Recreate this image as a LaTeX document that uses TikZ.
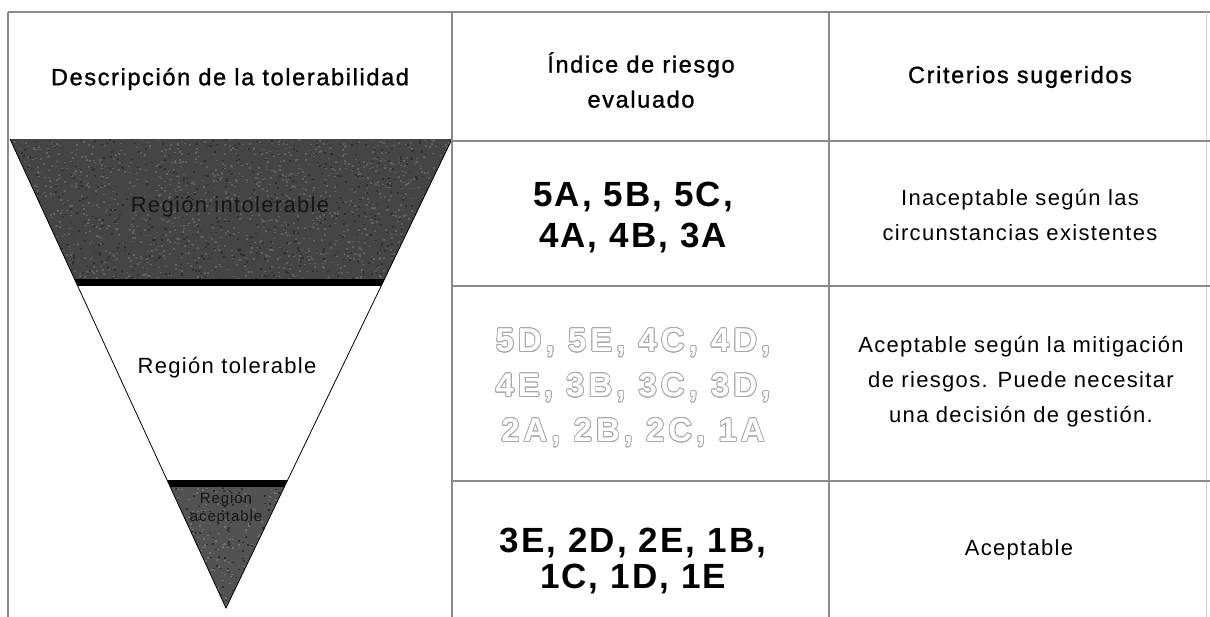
\documentclass[tikz,border=0pt]{standalone}
\usepackage{fontspec}
\usepackage{contour}
\contourlength{0.7pt}
\contournumber{24}
\setmainfont{Liberation Sans}
\newfontfamily\hdrfont[LetterSpace=7,FakeBold=1.2]{Liberation Sans}
\newfontfamily\txtfont[LetterSpace=6]{Liberation Sans}
\newfontfamily\codefont[LetterSpace=6]{Liberation Sans}
\newfontfamily\outfont[LetterSpace=12]{Liberation Sans}
\definecolor{gridc}{HTML}{8A8A8A}
\definecolor{darkup}{HTML}{454545}
\definecolor{darklo}{HTML}{525252}
\definecolor{specklight}{HTML}{606060}
\definecolor{speckdark}{HTML}{303030}
\definecolor{outc}{HTML}{A8A8A8}
\definecolor{regtxt}{HTML}{161616}
\begin{document}
\begin{tikzpicture}[x=1pt,y=-1pt,
  gridline/.style={draw=gridc,line width=1.4pt},
  hdr/.style={font=\hdrfont\fontsize{23.5}{35}\selectfont, align=center, inner sep=0pt},
  crit/.style={font=\txtfont\fontsize{22}{35}\selectfont, align=center, inner sep=0pt},
  codes/.style={font=\codefont\bfseries\fontsize{35}{41}\selectfont, align=center, inner sep=0pt},
  outcodes/.style={font=\outfont\bfseries\fontsize{33}{45}\selectfont, align=center, inner sep=0pt},
  regl/.style={font=\txtfont\fontsize{22}{26}\selectfont, inner sep=0pt}]
\useasboundingbox (0,0) rectangle (1210,617);
\fill[white] (0,0) rectangle (1210,617);

% inverted triangle
\coordinate (tl) at (10,139);
\coordinate (tr) at (452,139);
\coordinate (ap) at (226,608);
\begin{scope}
  \clip (tl) -- (tr) -- (ap) -- cycle;
  \fill[darkup] (0,139) rectangle (460,280);
  \fill[darklo] (0,487) rectangle (460,612);
  \pgfmathsetseed{12}
  \foreach \i in {1,...,1400} {
    \pgfmathsetmacro\xx{10+442*rnd}
    \pgfmathsetmacro\yy{139+141*rnd}
    \fill[specklight] (\xx,\yy) rectangle ++(2,1.5);
  }
  \foreach \i in {1,...,700} {
    \pgfmathsetmacro\xx{10+442*rnd}
    \pgfmathsetmacro\yy{139+141*rnd}
    \fill[speckdark] (\xx,\yy) rectangle ++(2,1.5);
  }
  \foreach \i in {1,...,300} {
    \pgfmathsetmacro\xx{160+132*rnd}
    \pgfmathsetmacro\yy{487+121*rnd}
    \fill[specklight!90!white] (\xx,\yy) rectangle ++(2,1.5);
  }
  \foreach \i in {1,...,200} {
    \pgfmathsetmacro\xx{160+132*rnd}
    \pgfmathsetmacro\yy{487+121*rnd}
    \fill[speckdark] (\xx,\yy) rectangle ++(2,1.5);
  }
  \fill[black] (0,279) rectangle (460,286);
  \fill[black] (0,480) rectangle (460,487);
\end{scope}
\draw[black,line width=0.8pt] (tl) -- (ap) -- (tr);

% table grid
\draw[gridline] (8,12) -- (1210,12);
\draw[gridline] (8,12) -- (8,617);
\draw[gridline] (452,12) -- (452,617);
\draw[gridline] (829,12) -- (829,617);
\draw[draw=gridc!40,line width=1pt] (1206,12) -- (1206,617);
\draw[gridline] (452,141) -- (1210,141);
\draw[gridline] (452,286) -- (1210,286);
\draw[gridline] (452,481) -- (1210,481);

% headers
\node[hdr] (h1) at (230,79) {Descripción de la tolerabilidad};
\node[hdr] (h2) at (641,80) {Índice de riesgo\\evaluado};
\node[hdr] (h3) at (1020,77) {Criterios sugeridos};

% triangle labels
\node[regl,text=regtxt] (ri) at (230,207) {Región intolerable};
\node[regl,text=black] (rt) at (227,368) {Región tolerable};
\node[font=\txtfont\fontsize{15}{18}\selectfont, align=center, inner sep=0pt, text=regtxt] (ra) at (226,509) {Región\\aceptable};

% codes
\node[codes] (c1) at (633,217) {5A, 5B, 5C,\\4A, 4B, 3A};
\node[outcodes] (c2) at (633,388) {\contour{outc}{\color{white}5D, 5E, 4C, 4D,}\\\contour{outc}{\color{white}4E, 3B, 3C, 3D,}\\\contour{outc}{\color{white}2A, 2B, 2C, 1A}};
\node[codes,font=\codefont\bfseries\fontsize{35}{36}\selectfont] (c3) at (633,561) {3E, 2D, 2E, 1B,\\1C, 1D, 1E};

% criteria
\node[crit] (k1) at (1020,215) {Inaceptable según las\\circunstancias existentes};
\node[crit] (k2) at (1021,382) {Aceptable según la mitigación\\de riesgos. Puede necesitar\\una decisión de gestión.};
\node[crit] (k3) at (1019,550) {Aceptable};
\end{tikzpicture}
\end{document}
